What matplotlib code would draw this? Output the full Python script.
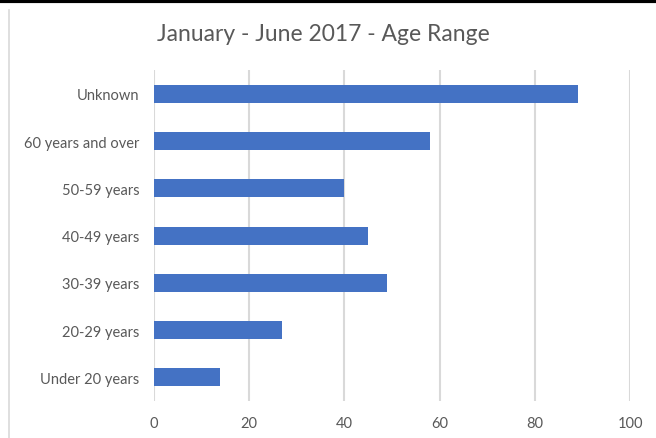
import matplotlib.pyplot as plt
from matplotlib.lines import Line2D

plt.rcParams['font.family'] = ['Lato', 'DejaVu Sans']

age_groups = ['Under 20 years', '20-29 years', '30-39 years', '40-49 years',
              '50-59 years', '60 years and over', 'Unknown']
counts = [14, 27, 49, 45, 40, 58, 89]
x_ticks = [0, 20, 40, 60, 80, 100]

bar_color = '#4472C4'
grid_color = '#d9d9d9'
text_color = '#595959'

fig = plt.figure(figsize=(6.56, 4.39), dpi=100)
ax = fig.add_axes([0.234, 0.084, 0.727, 0.754])

ax.barh(range(len(age_groups)), counts, height=0.38, color=bar_color, zorder=3)

ax.set_xlim(0, 100)
ax.set_ylim(-0.5, len(age_groups) - 0.5)
ax.set_xticks(x_ticks)
ax.set_yticks(range(len(age_groups)))
ax.set_yticklabels(age_groups)
ax.xaxis.grid(True, color=grid_color, linewidth=1.5, zorder=0)
ax.tick_params(axis='both', length=0, labelsize=10.5, labelcolor=text_color)
ax.tick_params(axis='x', pad=11)
ax.tick_params(axis='y', pad=10)
for side in ax.spines.values():
    side.set_visible(False)

fig.text(0.493, 0.922, 'January - June 2017 - Age Range', ha='center', va='center',
         fontsize=16.5, color=text_color)

# outer frame bits: thick dark rule on top, thin grey edge on the left
fig.add_artist(Line2D([0, 1], [0.996, 0.996], color='black', linewidth=3,
                      transform=fig.transFigure))
fig.add_artist(Line2D([0.014, 0.014], [0, 0.975], color=grid_color, linewidth=1.2,
                      transform=fig.transFigure))

fig.savefig('out.png', dpi=100)
